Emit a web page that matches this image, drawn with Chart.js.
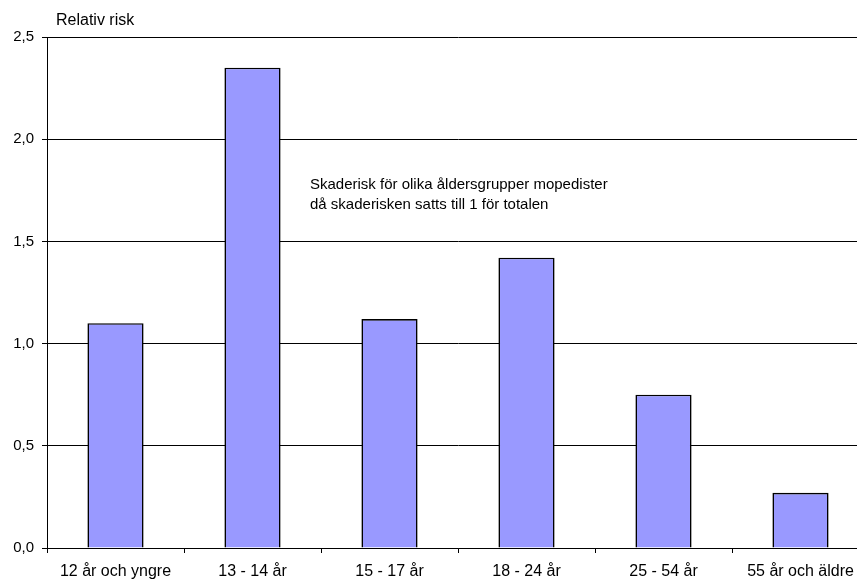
<!DOCTYPE html>
<html>
<head>
<meta charset="utf-8">
<script src="https://cdn.jsdelivr.net/npm/chart.js@4"></script>
<style>
  body { margin: 0; overflow: hidden; background: #fff; }
  #wrap { width: 857px; height: 579px; overflow: hidden; }
</style>
</head>
<body>
<div id="wrap"><canvas id="riskChart" width="870" height="579"></canvas></div>
<script>
const categories = ["12 år och yngre", "13 - 14 år", "15 - 17 år", "18 - 24 år", "25 - 54 år", "55 år och äldre"];
const relativeRisk = [1.10, 2.35, 1.12, 1.42, 0.75, 0.27];
const yTicks = [0, 0.5, 1.0, 1.5, 2.0, 2.5];
const yTitle = "Relativ risk";
const noteLines = ["Skaderisk för olika åldersgrupper mopedister", "då skaderisken satts till 1 för totalen"];

const font = "Liberation Sans, Arial, sans-serif";

const textPlugin = {
  id: "texts",
  afterDraw(chart) {
    const ctx = chart.ctx;
    ctx.save();
    ctx.fillStyle = "#000";
    ctx.textBaseline = "middle";
    ctx.textAlign = "left";
    ctx.font = "16px " + font;
    ctx.fillText(yTitle, 56, 21);
    ctx.font = "15px " + font;
    noteLines.forEach((line, i) => ctx.fillText(line, 310, 185 + i * 20));
    ctx.restore();
  }
};

new Chart(document.getElementById("riskChart"), {
  type: "bar",
  data: {
    labels: categories,
    datasets: [{
      data: relativeRisk,
      backgroundColor: "#9999FF",
      borderColor: "#000",
      borderWidth: 1.6,
      barPercentage: 0.41,
      categoryPercentage: 1.0
    }]
  },
  options: {
    responsive: false,
    animation: false,
    layout: { padding: { top: 37, right: 1, left: 0, bottom: 0 } },
    plugins: { legend: { display: false }, tooltip: { enabled: false } },
    scales: {
      x: {
        grid: { offset: true, drawOnChartArea: false, color: "#000", tickLength: 5 },
        border: { color: "#000" },
        ticks: { color: "#000", font: { family: font, size: 16 }, padding: 9, maxRotation: 0, autoSkip: false },
        afterFit: (s) => { s.height = 31; }
      },
      y: {
        min: 0,
        max: 2.5,
        afterBuildTicks: (s) => { s.ticks = yTicks.map(v => ({ value: v })); },
        grid: { color: "#000", tickLength: 5 },
        border: { color: "#000" },
        ticks: {
          color: "#000",
          font: { family: font, size: 15 },
          padding: 8,
          callback: (v) => v.toFixed(1).replace(".", ",")
        },
        afterFit: (s) => { s.width = 47; }
      }
    }
  },
  plugins: [textPlugin]
});
</script>
</body>
</html>
